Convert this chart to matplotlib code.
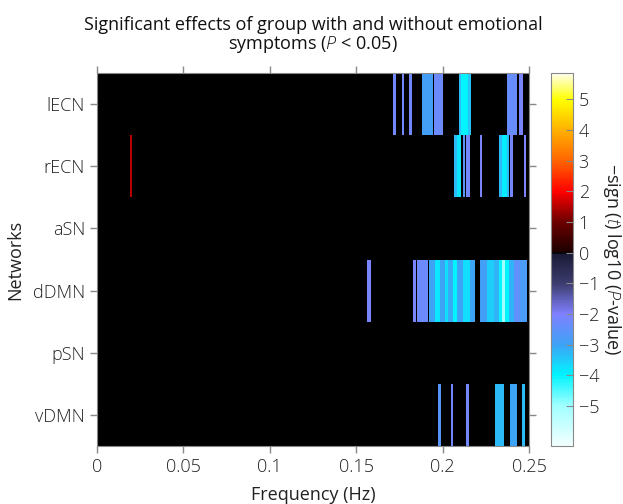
import matplotlib
matplotlib.use("Agg")
import matplotlib.pyplot as plt
from matplotlib.colors import LinearSegmentedColormap, Normalize
from matplotlib.cm import ScalarMappable

plt.rcParams['font.family'] = ['Open Sans', 'DejaVu Sans']
plt.rcParams['font.weight'] = 'light'
plt.rcParams['mathtext.fontset'] = 'custom'
plt.rcParams['mathtext.rm'] = 'Open Sans:light'
plt.rcParams['mathtext.it'] = 'Open Sans:italic:light'

networks = ["lECN", "rECN", "aSN", "dDMN", "pSN", "vDMN"]

# significant stripes per network: (start Hz, end Hz, -sign(t) log10(P))
lECN = [(0.1715, 0.1730, -2.2), (0.1762, 0.1779, -2.2), (0.1808, 0.1823, -2.2),
        (0.1881, 0.1942, -2.9), (0.1950, 0.2000, -2.3), (0.2093, 0.2108, -3.3),
        (0.2108, 0.2148, -4.0), (0.2148, 0.2165, -3.4), (0.2371, 0.2429, -2.4),
        (0.2444, 0.2464, -2.1)]
rECN = [(0.0192, 0.0205, 1.5), (0.2064, 0.2084, -3.3), (0.2084, 0.2107, -3.8),
        (0.2116, 0.2130, -2.6), (0.2136, 0.2156, -2.2), (0.2217, 0.2229, -2.1),
        (0.2325, 0.2345, -3.3), (0.2345, 0.2374, -3.9), (0.2374, 0.2386, -3.3),
        (0.2389, 0.2406, -2.2), (0.2470, 0.2481, -2.1)]
aSN = []
dDMN = [(0.1560, 0.1583, -2.1), (0.1830, 0.1846, -2.1), (0.1850, 0.1914, -2.3),
        (0.1921, 0.1956, -3.0), (0.1956, 0.1985, -3.8), (0.1985, 0.2014, -3.0),
        (0.2014, 0.2033, -3.7), (0.2033, 0.2062, -3.1), (0.2062, 0.2082, -4.0),
        (0.2082, 0.2120, -3.0), (0.2120, 0.2159, -3.7), (0.2159, 0.2188, -3.0),
        (0.2217, 0.2256, -2.9), (0.2256, 0.2295, -3.5), (0.2295, 0.2324, -3.2),
        (0.2324, 0.2343, -4.0), (0.2343, 0.2362, -5.0), (0.2362, 0.2382, -4.0),
        (0.2382, 0.2411, -3.2), (0.2411, 0.2449, -2.5), (0.2449, 0.2488, -2.8)]
pSN = []
vDMN = [(0.1972, 0.1991, -2.6), (0.2049, 0.2062, -2.2), (0.2136, 0.2152, -2.2),
        (0.2303, 0.2353, -3.3), (0.2391, 0.2430, -3.0), (0.2459, 0.2478, -3.3)]

stripes = [lECN, rECN, aSN, dDMN, pSN, vDMN]

vmin, vmax = -6.3, 5.85
cbar_ticks = list(range(-5, 6))

# two-sided colormap: cold (blue -> cyan -> white) for negative, hot for positive
nodes = [(-6.3, "#f2ffff"), (-5.0, "#a0ffff"), (-4.0, "#00f4ff"), (-3.0, "#3ea2f5"),
         (-2.0, "#8080ff"), (-1.0, "#3c3c6e"), (-0.05, "#1a1a36"), (0.0, "#000000"),
         (0.05, "#200000"), (1.0, "#6a0000"), (2.0, "#ff0000"), (3.0, "#ff6400"),
         (4.0, "#ffb000"), (5.0, "#ffff00"), (5.85, "#ffffea")]
cmap = LinearSegmentedColormap.from_list(
    "coldhot", [((v - vmin) / (vmax - vmin), c) for v, c in nodes])
norm = Normalize(vmin=vmin, vmax=vmax)

fs = 13
fig = plt.figure(figsize=(6.23, 5.04), dpi=100)
ax = fig.add_axes([0.1557, 0.115, 0.6935, 0.74])
cax = fig.add_axes([0.8845, 0.115, 0.0353, 0.74])

ax.set_facecolor("black")
for i, rows in enumerate(stripes):
    if not rows:
        continue
    ax.broken_barh([(f0, f1 - f0) for f0, f1, v in rows], (i - 0.5, 1),
                   facecolors=[cmap(norm(v)) for f0, f1, v in rows],
                   linewidth=0, antialiased=False)

ax.set_xlim(0, 0.25)
ax.set_ylim(len(networks) - 0.5, -0.5)
ax.set_xticks([0, 0.05, 0.1, 0.15, 0.2, 0.25])
ax.set_xticklabels(["0", "0.05", "0.1", "0.15", "0.2", "0.25"])
ax.set_yticks(range(len(networks)))
ax.set_yticklabels(networks)
ax.tick_params(direction='out', top=True, right=True, labeltop=False, labelright=False,
               color='#888888', length=5, width=1, labelsize=fs, labelcolor='#222222')
for s in ax.spines.values():
    s.set_color('#888888')

ax.set_xlabel("Frequency (Hz)", fontsize=fs, color='#222222', labelpad=7)
ax.set_ylabel("Networks", fontsize=fs, color='#222222', labelpad=6)
ax.set_title("Significant effects of group with and without emotional\n"
             r"symptoms ($\mathit{P}$ < 0.05)", fontsize=fs, color='#111111',
             linespacing=1.05, pad=17)

sm = ScalarMappable(norm=norm, cmap=cmap)
cb = fig.colorbar(sm, cax=cax, ticks=cbar_ticks)
cb.outline.set_edgecolor('#888888')
cb.ax.tick_params(direction='in', color='#888888', length=5, labelsize=fs,
                  labelcolor='#222222', pad=4)
cb.set_label(r"−sign ($\mathit{t}$) log10 ($\mathit{P}$-value)", rotation=270,
             fontsize=fs, color='#222222', labelpad=17)

fig.savefig("out.png", dpi=100)
